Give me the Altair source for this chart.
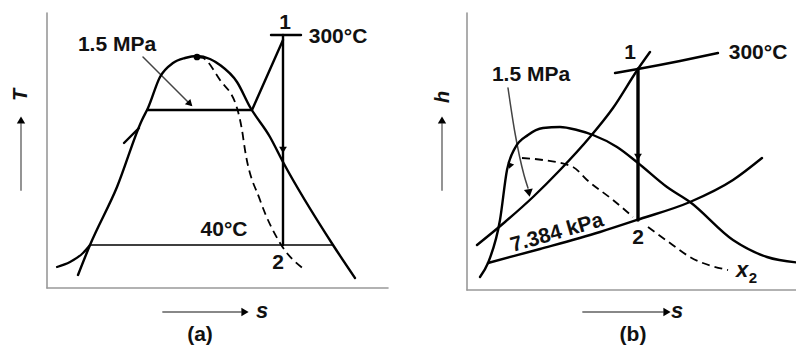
import altair as alt
import pandas as pd

# ---------------- panel (a): T-s diagram (values read in picture units) ----------------
a_sat_s = [78, 90, 117, 142, 148, 160, 173, 185, 197, 210, 220, 237, 250, 270, 283, 333, 355]
a_sat_T = [275, 245, 187, 120, 108, 77, 63, 58, 56, 59, 65, 82, 107, 137, 162, 245, 278]
a_p15_s = [148, 252, 283]
a_p15_T = [110, 110, 40]
a_tick_s = [271, 301]
a_tick_T = [35, 35]
a_vert_s = [283, 283]
a_vert_T = [35, 245]
a_40_s = [90, 333]
a_40_T = [245, 245]
a_dash_s = [198, 203, 220, 237, 242, 245, 260, 280, 305]
a_dash_T = [57, 58, 80, 108, 130, 150, 200, 243, 270]
a_head1_s = [124, 139]
a_head1_T = [143, 128]
a_head2_s = [57, 70, 83, 90]
a_head2_T = [267, 262, 253, 245]
a_ptr_s = [143, 191]
a_ptr_T = [57, 105]
a_yax_s = [47, 47]
a_yax_T = [13, 288]
a_xax_s = [47, 388]
a_xax_T = [288, 288]
a_yarr_s = [21, 21]
a_yarr_T = [190, 124]
a_xarr_s = [163, 241]
a_xarr_T = [312, 312]

# ---------------- panel (b): h-s diagram ----------------
b_sat_s = [480, 488, 500, 507, 515, 528, 543, 560, 577, 593, 617, 638, 667, 690, 733, 767, 803]
b_sat_h = [277, 263, 220, 170, 148, 135, 128, 127, 130, 135, 147, 163, 187, 202, 240, 257, 263]
b_p15_s = [477, 505, 533, 560, 590, 613, 638, 650]
b_p15_h = [245, 222, 197, 170, 137, 108, 69, 52]
b_t300_s = [615, 638, 680, 718]
b_t300_h = [73, 69, 61, 53]
b_vert_s = [638, 638]
b_vert_h = [69, 220]
b_p7_s = [488, 540, 600, 640, 690, 733, 762]
b_p7_h = [263, 249, 232, 219, 202, 180, 158]
b_dash1_s = [522, 543, 573, 587, 613, 633]
b_dash1_h = [158, 160, 167, 180, 200, 217]
b_dash2_s = [648, 670, 690, 728]
b_dash2_h = [227, 243, 257, 270]
b_ptr_s = [508, 515, 524, 528]
b_ptr_h = [88, 133, 175, 188]
b_yax_s = [467, 467]
b_yax_h = [13, 290]
b_xax_s = [467, 803]
b_xax_h = [290, 290]
b_yarr_s = [442, 442]
b_yarr_h = [190, 124]
b_xarr_s = [583, 663]
b_xarr_h = [312, 312]

# arrowheads: position and direction (degrees clockwise from up)
head_x = [283, 190, 21, 245, 638, 529, 510, 442, 667]
head_y = [150, 104, 120, 312, 157, 193, 166, 120, 312]
head_ang = [180, 135, 0, 90, 180, 170, 200, 0, 90]
head_size = [60, 60, 70, 70, 60, 80, 45, 70, 70]

# labels
lab_text = ["1", "300°C", "1.5 MPa", "40°C", "2", "(a)",
            "1", "300°C", "1.5 MPa", "2", "(b)"]
lab_x = [285, 338, 117, 224, 278, 200, 630, 758, 531, 638, 633]
lab_y = [23, 37, 45, 230, 263, 335, 53, 53, 75, 238, 335]
ital_text = ["s", "s", "x"]
ital_x = [262, 677, 742]
ital_y = [311, 311, 270]
rot_text = ["T", "h"]
rot_x = [21, 443]
rot_y = [95, 97]


def seg(name, xs, ys):
    return pd.DataFrame({"x": xs, "y": ys, "id": name, "o": list(range(len(xs)))})


X = alt.X("x:Q", scale=alt.Scale(domain=[8, 796]), axis=None)
Y = alt.Y("y:Q", scale=alt.Scale(domain=[8, 346], reverse=True), axis=None)


def lines(dfs, width, color="black", dash=None, interp="linear"):
    kw = dict(strokeWidth=width, color=color, interpolate=interp,
              strokeCap="round", strokeJoin="round")
    if dash:
        kw["strokeDash"] = dash
        kw["strokeCap"] = "butt"
    return alt.Chart(pd.concat(dfs)).mark_line(**kw).encode(
        x=X, y=Y, detail="id:N", order="o:Q")


curves = lines([seg("asat", a_sat_s, a_sat_T), seg("bsat", b_sat_s, b_sat_h),
                seg("bp15", b_p15_s, b_p15_h), seg("bp7", b_p7_s, b_p7_h),
                seg("bt", b_t300_s, b_t300_h)], 2.4, interp="monotone")
straight = lines([seg("ap", a_p15_s, a_p15_T), seg("atk", a_tick_s, a_tick_T),
                  seg("av", a_vert_s, a_vert_T), seg("h1", a_head1_s, a_head1_T)], 2.4)
curved_thin = lines([seg("h2", a_head2_s, a_head2_T)], 2.2, interp="monotone")
thin = lines([seg("a40", a_40_s, a_40_T)], 1.6)
thick = lines([seg("bv", b_vert_s, b_vert_h)], 3.4)
dashed = lines([seg("ad", a_dash_s, a_dash_T), seg("bd1", b_dash1_s, b_dash1_h),
                seg("bd2", b_dash2_s, b_dash2_h)], 1.8, dash=[8, 5], interp="monotone")
pointers = lines([seg("ap1", a_ptr_s, a_ptr_T), seg("bp1", b_ptr_s, b_ptr_h)],
                 1.5, color="#444", interp="monotone")
axes = lines([seg("ay", a_yax_s, a_yax_T), seg("ax", a_xax_s, a_xax_T),
              seg("by", b_yax_s, b_yax_h), seg("bx", b_xax_s, b_xax_h)], 1.6, color="#999")
axarrows = lines([seg("ya", a_yarr_s, a_yarr_T), seg("xa", a_xarr_s, a_xarr_T),
                  seg("yb", b_yarr_s, b_yarr_h), seg("xb", b_xarr_s, b_xarr_h)],
                 1.8, color="#888")

heads = alt.Chart(pd.DataFrame({"x": head_x, "y": head_y, "a": head_ang, "sz": head_size})).mark_point(
    shape="triangle-up", filled=True, color="black", opacity=1).encode(
    x=X, y=Y, angle=alt.Angle("a:Q", scale=None), size=alt.Size("sz:Q", scale=None))

peak = alt.Chart(pd.DataFrame({"x": [197], "y": [57]})).mark_point(
    filled=True, color="black", size=45, opacity=1).encode(x=X, y=Y)

labels = alt.Chart(pd.DataFrame({"x": lab_x, "y": lab_y, "t": lab_text})).mark_text(
    font="Liberation Sans", fontSize=21, fontWeight="bold", color="#111",
    align="center", baseline="middle").encode(x=X, y=Y, text="t:N")

ital = alt.Chart(pd.DataFrame({"x": ital_x, "y": ital_y, "t": ital_text})).mark_text(
    font="Liberation Sans", fontSize=22, fontStyle="italic", fontWeight="bold", color="#111",
    align="center", baseline="middle").encode(x=X, y=Y, text="t:N")

sub = alt.Chart(pd.DataFrame({"x": [753], "y": [278], "t": ["2"]})).mark_text(
    font="Liberation Sans", fontSize=15, color="#111", fontWeight="bold",
    align="center", baseline="middle").encode(x=X, y=Y, text="t:N")

rot = alt.Chart(pd.DataFrame({"x": rot_x, "y": rot_y, "t": rot_text})).mark_text(
    font="Liberation Sans", fontSize=20, fontStyle="italic", fontWeight="bold", color="#111",
    angle=270, align="center", baseline="middle").encode(x=X, y=Y, text="t:N")

kpa = alt.Chart(pd.DataFrame({"x": [557], "y": [233], "t": ["7.384 kPa"]})).mark_text(
    font="Liberation Sans", fontSize=21, fontWeight="bold", color="#111",
    angle=344, align="center", baseline="middle").encode(x=X, y=Y, text="t:N")

chart = alt.layer(axes, axarrows, thin, dashed, pointers, curves, straight, curved_thin,
                  thick, heads, peak, labels, ital, sub, rot, kpa).properties(
    width=788, height=338, padding=0, autosize=alt.AutoSizeParams(type="none"),
    background="white").configure_view(stroke=None)

chart.save("out.html", embed_options={"renderer": "svg", "actions": False})
